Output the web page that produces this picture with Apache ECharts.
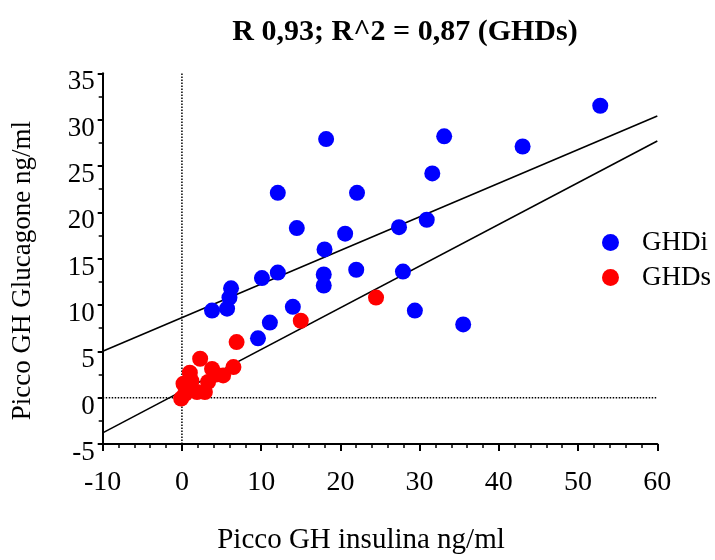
<!DOCTYPE html>
<html><head><meta charset="utf-8">
<script src="https://cdn.jsdelivr.net/npm/echarts@6/dist/echarts.min.js"></script>
<style>html,body{margin:0;padding:0;background:#fff}#c{width:715px;height:560px}</style>
</head><body><div id="c"></div>
<script>
const ghdiPoints = [[18.2,27.9],[12.1,22.1],[22.1,22.1],[14.5,18.3],[20.6,17.7],[18.0,16.0],[52.8,31.5],[33.1,28.2],[43.0,27.1],[31.6,24.2],[30.9,19.2],[27.4,18.4],[3.8,9.4],[5.7,9.6],[6.0,10.8],[6.2,11.8],[10.1,12.9],[12.1,13.5],[17.9,13.3],[17.9,12.1],[22.0,13.8],[14.0,9.8],[11.1,8.1],[9.6,6.4],[27.9,13.6],[29.4,9.4],[35.5,7.9]];
const ghdsPoints = [[-0.1,-0.1],[0.4,0.4],[0.2,1.5],[1.2,1.8],[1.0,2.7],[1.9,0.6],[2.3,4.2],[2.9,0.6],[3.3,1.7],[3.8,3.1],[4.3,2.5],[5.2,2.4],[6.5,3.3],[6.9,6.0],[15.0,8.3],[24.5,10.8]];
const lineUpper = [[-10,5.0],[60,30.4]];
const lineLower = [[-10,-3.8],[60,27.7]];
const zeroV = [[0,-5],[0,35]];
const zeroH = [[-10,0],[60,0]];
const xTicks = {min:-10,max:60,interval:10};
const yTicks = {min:-5,max:35,interval:5};

const F = 'Liberation Serif';
const chart = echarts.init(document.getElementById('c'));
chart.setOption({
  animation:false,
  title:{text:'R 0,93; R^2 = 0,87 (GHDs)', left:400, textAlign:'center', top:12,
    textStyle:{fontFamily:F, fontWeight:'bold', fontSize:30, color:'#000'}},
  legend:{orient:'vertical', left:597, top:224, itemWidth:17, itemHeight:17, itemGap:8,
    data:[{name:'GHDi',icon:'circle'},{name:'GHDs',icon:'circle'}],
    textStyle:{fontFamily:F, fontSize:27, color:'#000', padding:[0,0,0,18]}},
  grid:{left:102.7, right:57.7, top:73.3, bottom:110},
  xAxis:{type:'value', min:xTicks.min, max:xTicks.max, interval:xTicks.interval,
    name:'Picco GH insulina ng/ml', nameLocation:'middle', nameGap:82,
    nameTextStyle:{fontFamily:F, fontSize:29, color:'#000', padding:[0,38,0,0]},
    axisLine:{onZero:false, lineStyle:{color:'#000', width:2}},
    axisTick:{length:7, lineStyle:{color:'#000', width:2}},
    minorTick:{show:true, splitNumber:5, length:4, lineStyle:{color:'#000', width:1.5}},
    splitLine:{show:false},
    axisLabel:{fontFamily:F, fontSize:28, color:'#000', margin:25}},
  yAxis:{type:'value', min:yTicks.min, max:yTicks.max, interval:yTicks.interval,
    name:'Picco GH Glucagone ng/ml', nameLocation:'middle', nameGap:66,
    nameTextStyle:{fontFamily:F, fontSize:27, color:'#000', padding:[0,24,0,0]},
    axisLine:{onZero:false, lineStyle:{color:'#000', width:2}},
    axisTick:{length:5, lineStyle:{color:'#000', width:2}},
    minorTick:{show:true, splitNumber:2, length:4, lineStyle:{color:'#000', width:1.5}},
    splitLine:{show:false},
    axisLabel:{color:'#000', margin:8, formatter:function(v){return '{a|'+v+'}';},
      rich:{a:{fontFamily:F, fontSize:27, color:'#000', padding:[18,0,0,0]}}}},
  series:[
    {name:'zeroV', type:'line', data:zeroV, symbol:'none', silent:true, lineStyle:{color:'#000', width:1.5, type:'dotted'}, z:1},
    {name:'zeroH', type:'line', data:zeroH, symbol:'none', silent:true, lineStyle:{color:'#000', width:1.5, type:'dotted'}, z:1},
    {name:'fitUpper', type:'line', data:lineUpper, symbol:'none', silent:true, lineStyle:{color:'#000', width:1.6}, z:2},
    {name:'fitLower', type:'line', data:lineLower, symbol:'none', silent:true, lineStyle:{color:'#000', width:1.6}, z:2},
    {name:'GHDi', type:'scatter', data:ghdiPoints, symbolSize:16, itemStyle:{color:'#0000ff', opacity:1}, z:3},
    {name:'GHDs', type:'scatter', data:ghdsPoints, symbolSize:16, itemStyle:{color:'#ff0000', opacity:1}, z:4}
  ]
});
</script></body></html>
